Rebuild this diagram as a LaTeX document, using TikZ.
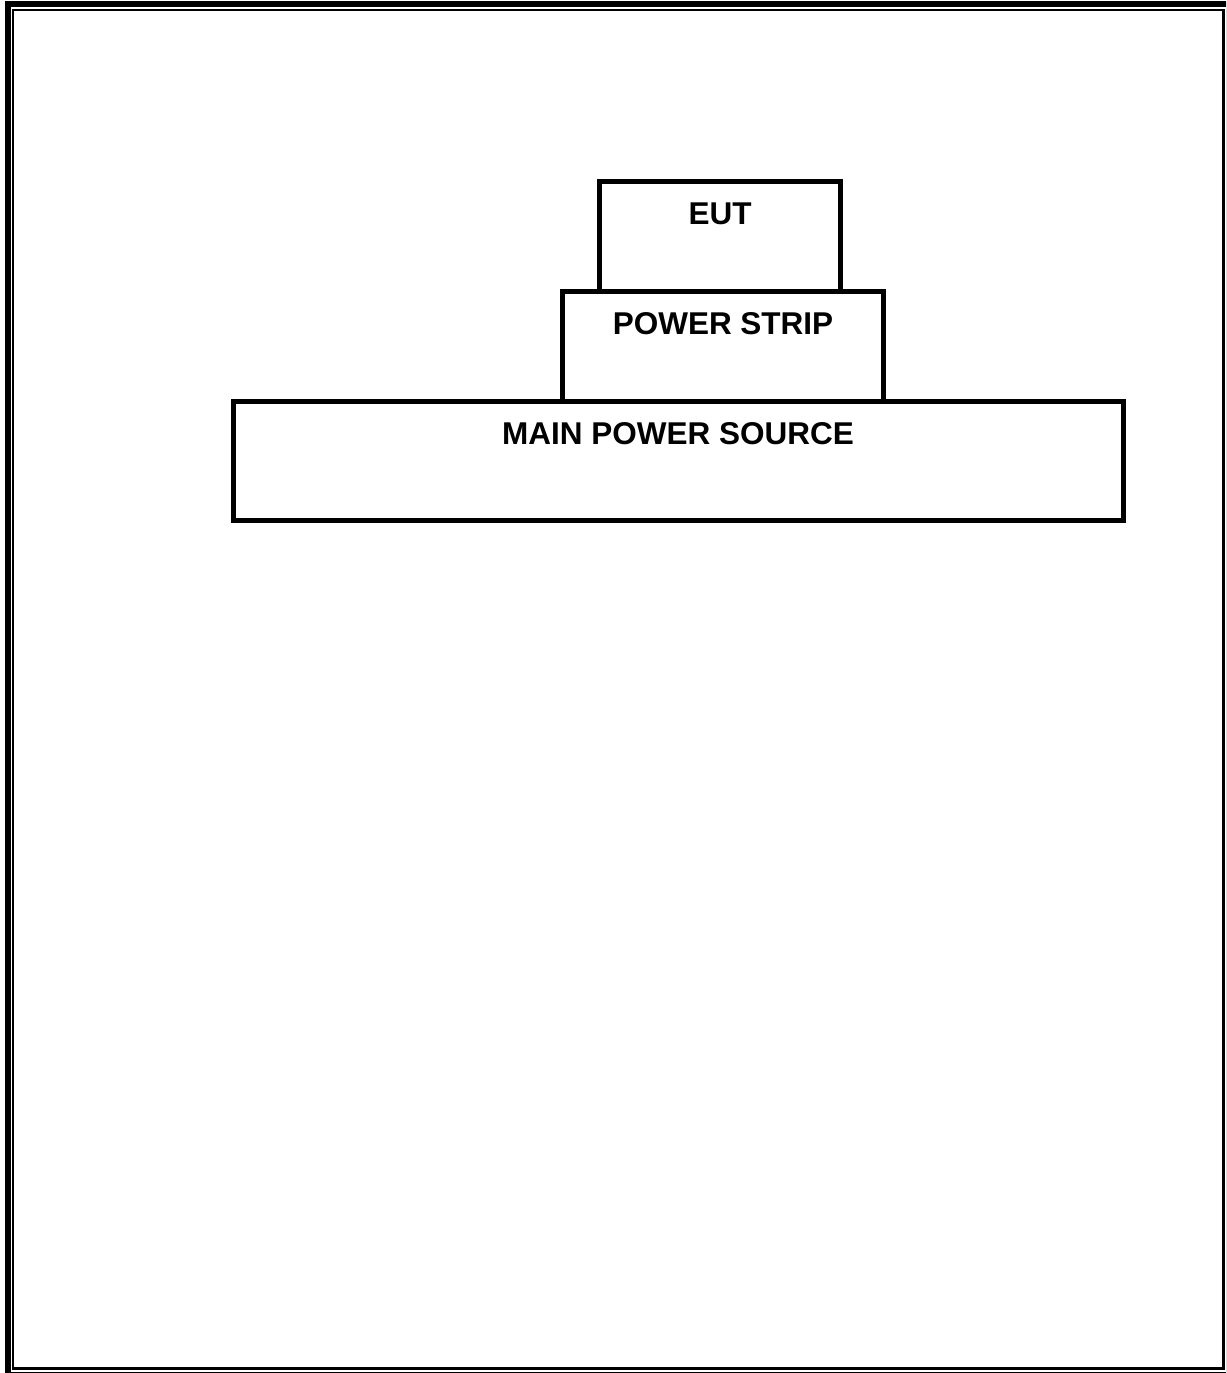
\documentclass[tikz,border=0pt]{standalone}
\usepackage{fontspec}
\setmainfont{Liberation Sans}
\begin{document}
\begin{tikzpicture}[x=1pt,y=-1pt,
  boxline/.style={draw=black,line width=5pt},
  lbl/.style={anchor=base,inner sep=0pt,font=\fontsize{31.5}{38}\selectfont\bfseries}]
\useasboundingbox (0,0) rectangle (1226,1373);
\clip (0,0) rectangle (1226,1373);
% page frame
\draw[line width=6pt] (8,3.5) rectangle (1229,1375);
\draw[line width=2.5pt] (13,10) rectangle (1223.5,1368.5);
% boxes
\draw[boxline] (599.5,181.5) rectangle (840,291);
\draw[boxline] (562,291) rectangle (883.5,401.5);
\draw[boxline] (233.5,401.5) rectangle (1123.5,520.5);
% labels
\node[lbl] (eut) at (720,224) {EUT};
\node[lbl] (strip) at (723,334) {POWER STRIP};
\node[lbl] (main) at (678,444.5) {MAIN POWER SOURCE};
\end{tikzpicture}
\end{document}
